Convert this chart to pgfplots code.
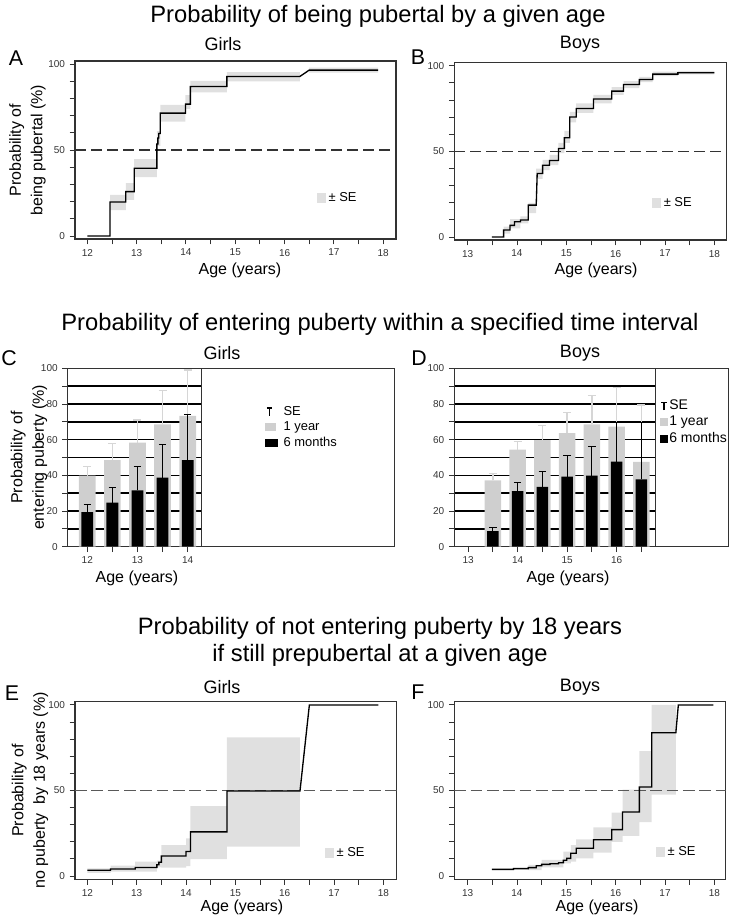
\documentclass[border=0pt]{standalone}
\usepackage{pgfplots}
\pgfplotsset{compat=1.18}
\usepackage{fontspec}
\setmainfont{Liberation Sans}
\definecolor{band}{gray}{0.88}
\definecolor{bargray}{gray}{0.81}
\definecolor{errgray}{gray}{0.84}
\definecolor{axcol}{gray}{0.2}
\definecolor{dashcol}{gray}{0.35}
\newcommand\titlefont{\fontsize{17.8}{20.5}\selectfont}
\newcommand\subfont{\fontsize{13.5}{16}\selectfont}
\newcommand\labfont{\fontsize{12}{16}\selectfont}
\newcommand\letterfont{\fontsize{16}{19}\selectfont}
\newcommand\legfont{\fontsize{9.7}{11}\selectfont}
\pgfplotsset{
  base/.style={
    scale only axis, anchor=south west,
    axis line style={axcol, line width=0.8pt},
    tick style={axcol, line width=0.7pt},
    tick align=outside, tick pos=left,
    major tick length=4pt, minor tick length=4pt,
    ticklabel style={font=\fontsize{7.5}{9}\selectfont, text=axcol},
    /pgf/number format/assume math mode=true,
    legend style={draw=none, fill=none, inner sep=0pt, font=\legfont, nodes={inner sep=2pt}},
  },
  km/.style={base, ymin=-1.75, ymax=101.8,
    xtick={12,13,...,18}, minor x tick num=1,
    ytick={0,50,100}, minor y tick num=4},
  bandplot/.style={fill=band, draw=none, unbounded coords=jump,
    legend image code/.code={\fill[band] (0pt,-3.5pt) rectangle (7pt,3.5pt);}},
  stepline/.style={black, line width=1pt},
  barc/.style={base, ymin=0, ymax=100,
    ytick={0,20,...,100}, minor ytick={10,30,...,90},
    ymajorgrids, yminorgrids,
    major grid style={black, line width=1.1pt}, minor grid style={black, line width=1.1pt},
    legend cell align=left,
    legend style={nodes={text height=7.2pt, text depth=2.4pt, inner sep=1pt}}},
  graybars/.style={ybar, bar width=0.333, bar shift=0pt, fill=bargray, draw=none,
    error bars/.cd, y dir=plus, y explicit,
    error bar style={errgray, line width=1pt},
    error mark options={errgray, line width=1pt, mark size=3pt, rotate=90}},
  blackbars/.style={ybar, bar width=0.235, bar shift=0pt, fill=black, draw=none,
    error bars/.cd, y dir=plus, y explicit,
    error bar style={black, line width=0.8pt},
    error mark options={black, line width=0.8pt, mark size=2.8pt, rotate=90}},
}
\begin{document}
\begin{tikzpicture}[x=0.75pt, y=-0.75pt]
\path[use as bounding box] (0,0) rectangle (730,918);

% ---------------- Row 1 ----------------
\node[font=\titlefont] at (378,16) {Probability of being pubertal by a given age};
\node[font=\subfont] at (223,44) {Girls};
\node[font=\subfont] at (580,44) {Boys};
\node[font=\letterfont] at (16,58) {A};
\node[font=\letterfont] at (418,57) {B};
\node[font=\labfont, rotate=90, align=center] at (27.5,150) {Probability of\\being pubertal (\%)};
\node[font=\labfont] at (240,270) {Age (years)};
\node[font=\labfont] at (596,270) {Age (years)};

\begin{axis}[km, at={(56.25pt,-179.25pt)}, width=240.75pt, height=133.5pt,
  xmin=11.75, xmax=18.26,
  legend style={at={(0.752,0.23)}, anchor=west}]
\addplot[bandplot] table {
x y
12.46 15.1
12.78 15.1
12.78 23.9
12.46 23.9
nan nan
12.78 21
12.95 21
12.95 30.7
12.78 30.7
nan nan
12.95 34.2
13.41 34.2
13.41 44.7
12.95 44.7
nan nan
13.41 52.5
13.48 52.5
13.48 61
13.41 61
nan nan
13.48 66.6
13.99 66.6
13.99 76.3
13.48 76.3
nan nan
13.99 74
14.09 74
14.09 82
13.99 82
nan nan
14.09 83.5
14.83 83.5
14.83 90.3
14.09 90.3
nan nan
14.83 90
16.31 90
16.31 95.3
14.83 95.3
nan nan
16.5 95
17.9 95
17.9 98
16.5 98
};
\addlegendentry{± SE}
\addplot[axcol, line width=0.9pt, dash pattern=on 8.25pt off 3.75pt, forget plot] coordinates {(11.75,50) (18.26,50)};
\addplot[stepline, forget plot] coordinates {
(12,0)(12.46,0)(12.46,19.8)(12.78,19.8)(12.78,25.8)(12.95,25.8)(12.95,39.4)(13.41,39.4)
(13.41,53.5)(13.43,53.5)(13.43,57)(13.45,57)(13.45,59.6)(13.48,59.6)(13.48,71.5)(13.99,71.5)
(13.99,76.7)(14.09,76.7)(14.09,87)(14.83,87)(14.83,92.8)(16.31,92.8)(16.5,96.5)(17.9,96.5)};
\end{axis}

\begin{axis}[km, at={(340.725pt,-180pt)}, width=204.3pt, height=133pt,
  xmin=12.73, xmax=18.25,
  legend style={at={(0.724,0.209)}, anchor=west}]
\addplot[bandplot] table {
x y
13.73 2
13.86 2
13.86 6
13.73 6
nan nan
13.86 5
14.07 5
14.07 10.5
13.86 10.5
nan nan
14.07 8
14.23 8
14.23 12
14.07 12
nan nan
14.23 14
14.39 14
14.39 20
14.23 20
nan nan
14.39 34
14.52 34
14.52 40
14.39 40
nan nan
14.52 39
14.66 39
14.66 45
14.52 45
nan nan
14.66 42
14.84 42
14.84 48
14.66 48
nan nan
14.84 49
14.96 49
14.96 55
14.84 55
nan nan
14.96 55
15.07 55
15.07 62
14.96 62
nan nan
15.07 67
15.2 67
15.2 73
15.07 73
nan nan
15.2 72.5
15.55 72.5
15.55 78
15.2 78
nan nan
15.55 78
15.92 78
15.92 83
15.55 83
nan nan
15.92 83
16.16 83
16.16 87.5
15.92 87.5
nan nan
16.16 87
16.48 87
16.48 91
16.16 91
nan nan
16.48 90.5
16.75 90.5
16.75 93.5
16.48 93.5
nan nan
16.75 94
17.26 94
17.26 96.5
16.75 96.5
nan nan
17.26 95
18 95
18 97
17.26 97
};
\addlegendentry{± SE}
\addplot[axcol, line width=0.9pt, dash pattern=on 8.25pt off 3.75pt, forget plot] coordinates {(12.73,50) (18.25,50)};
\addplot[stepline, forget plot] coordinates {
(13.49,0)(13.73,0)(13.73,4.1)(13.86,4.1)(13.86,6.8)(13.95,6.8)(13.95,8.9)(14.07,8.9)(14.07,9.9)
(14.23,9.9)(14.23,18.6)(14.39,18.6)(14.41,37.1)(14.52,37.1)(14.52,41.9)(14.66,41.9)(14.66,44.7)
(14.84,44.7)(14.84,51.7)(14.96,51.7)(14.96,58)(15.07,58)(15.07,70.1)(15.2,70.1)(15.2,75)
(15.55,75)(15.55,80.6)(15.92,80.6)(15.92,85.2)(16.16,85.2)(16.16,89.1)(16.48,89.1)(16.48,92)
(16.75,92)(16.75,95.1)(17.26,95.1)(17.26,95.9)(18,95.9)};
\end{axis}

% ---------------- Row 2 ----------------
\node[font=\titlefont] at (380,324) {Probability of entering puberty within a specified time interval};
\node[font=\subfont] at (222,353) {Girls};
\node[font=\subfont] at (580,353) {Boys};
\node[font=\letterfont] at (9,358) {C};
\node[font=\letterfont] at (419,358) {D};
\node[font=\labfont, rotate=90, align=center] at (29,457.5) {Probability of\\entering puberty (\%)};
\node[font=\labfont] at (137,578) {Age (years)};
\node[font=\labfont] at (568,578) {Age (years)};
\draw[axcol, line width=0.8pt] (67.7,368.3) rectangle (394.3,546.7);
\draw[axcol, line width=0.8pt] (454.3,368.3) rectangle (728.5,546.7);

\begin{axis}[barc, at={(50.775pt,-410.025pt)}, width=100.5pt, height=133.8pt,
  xmin=11.61, xmax=14.28,
  xtick={12,13,14}, minor xtick={12.5,13.5},
  legend style={at={(1.47,0.80)}, anchor=north west}]
\addlegendimage{legend image code/.code={\path[draw=none, fill=none] (0pt,-3pt) rectangle (13pt,3pt);
  \draw[black, line width=0.8pt] (3.5pt,-3pt)--(3.5pt,3pt) (1.5pt,3pt)--(5.5pt,3pt);}}
\addlegendentry{SE}
\addplot[legend image code/.code={\path[draw=none, fill=none] (0pt,-3pt) rectangle (13pt,3pt);
  \fill[bargray] (0pt,-3pt) rectangle (8pt,3pt);}, graybars] table[x=x, y=y, y error=e] {
x y e
12 39.8 5.1
12.5 48.6 9.4
13 58.3 12.7
13.5 68.6 18.9
14 73.3 25.7
};
\addlegendentry{1 year}
\addplot[legend image code/.code={\path[draw=none, fill=none] (0pt,-3pt) rectangle (13pt,3pt);
  \fill[black] (0pt,-3pt) rectangle (10pt,3pt);}, blackbars] table[x=x, y=y, y error=e] {
x y e
12 19.4 4.5
12.5 24.7 8.6
13 31.6 13.3
13.5 38.7 18.7
14 48.6 25.6
};
\addlegendentry{6 months}
\end{axis}

\begin{axis}[barc, at={(340.725pt,-410.025pt)}, width=151.05pt, height=133.8pt,
  xmin=12.72, xmax=16.79,
  xtick={13,14,15,16}, minor xtick={13.5,14.5,15.5,16.5},
  legend style={at={(1.02,0.835)}, anchor=north west, font=\fontsize{10.5}{12}\selectfont,
    nodes={text height=7.6pt, text depth=2.6pt, inner sep=1pt}}]
\addlegendimage{legend image code/.code={\path[draw=none, fill=none] (0pt,-3pt) rectangle (6pt,3pt);
  \draw[black, line width=0.8pt] (3pt,-3pt)--(3pt,3pt) (1pt,3pt)--(5pt,3pt);}}
\addlegendentry{SE}
\addplot[legend image code/.code={\fill[bargray] (0pt,-3pt) rectangle (6pt,3pt);}, graybars] table[x=x, y=y, y error=e] {
x y e
13.5 37.2 3.7
14 54.4 4.6
14.5 59.8 8.1
15 63.6 11.5
15.5 68.6 16.1
16 67.3 22
16.5 47.5 31.9
};
\addlegendentry{1 year}
\addplot[legend image code/.code={\fill[black] (0pt,-3pt) rectangle (6pt,3pt);}, blackbars] table[x=x, y=y, y error=e] {
x y e
13.5 8.8 2.2
14 31.2 4.7
14.5 33.5 8.4
15 39.3 11.7
15.5 39.8 16.2
16 47.7 21.8
16.5 37.8 31.7
};
\addlegendentry{6 months}
\end{axis}

% ---------------- Row 3 ----------------
\node[font=\titlefont, align=center] at (380,642) {Probability of not entering puberty by 18 years\\if still prepubertal at a given age};
\node[font=\subfont] at (222,687) {Girls};
\node[font=\subfont] at (580,687) {Boys};
\node[font=\letterfont] at (12,693) {E};
\node[font=\letterfont] at (418,692) {F};
\node[font=\labfont, rotate=90, align=center] at (30,790.5) {Probability of\\no puberty\ \ by 18 years (\%)};
\node[font=\labfont] at (242,907) {Age (years)};
\node[font=\labfont] at (597,907) {Age (years)};

\begin{axis}[km, at={(56.25pt,-659.475pt)}, width=241.275pt, height=133.2pt,
  xmin=11.75, xmax=18.27, ymin=-1.93, ymax=101.9,
  legend style={at={(0.775,0.148)}, anchor=west}]
\addplot[bandplot] table {
x y
12 1.9
12.47 1.9
12.47 4.5
12 4.5
nan nan
12.47 2.5
12.97 2.5
12.97 6
12.47 6
nan nan
12.97 2.5
13.41 2.5
13.41 8.4
12.97 8.4
nan nan
13.41 5
13.5 5
13.5 9
13.41 9
nan nan
13.5 4.9
14 4.9
14 18.1
13.5 18.1
nan nan
14 5.8
14.09 5.8
14.09 22
14 22
nan nan
14.09 9.9
14.83 9.9
14.83 40.9
14.09 40.9
nan nan
14.83 17.2
16.31 17.2
16.31 81.1
14.83 81.1
};
\addlegendentry{± SE}
\addplot[dashcol, line width=1.3pt, dash pattern=on 8.75pt off 3.5pt, forget plot] coordinates {(11.75,50) (18.27,50)};
\addplot[stepline, forget plot] coordinates {
(12,3.4)(12.47,3.4)(12.47,4.1)(12.97,4.1)(12.97,5.0)(13.41,5.0)(13.41,6.6)(13.45,6.6)(13.45,8)
(13.5,8)(13.5,11.7)(14,11.7)(14,14.3)(14.09,14.3)(14.09,25.8)(14.83,25.8)(14.83,49.7)
(16.31,49.7)(16.5,100)(17.9,100)};
\end{axis}

\begin{axis}[km, at={(340.725pt,-659.475pt)}, width=203.55pt, height=133.2pt,
  xmin=12.73, xmax=18.23, ymin=-1.93, ymax=101.9,
  legend style={at={(0.741,0.154)}, anchor=west}]
\addplot[bandplot] table {
x y
14.23 3.5
14.5 3.5
14.5 6.5
14.23 6.5
nan nan
14.5 5
14.94 5
14.94 9.5
14.5 9.5
nan nan
14.94 7.4
15.09 7.4
15.09 14.2
14.94 14.2
nan nan
15.09 8.4
15.2 8.4
15.2 18.1
15.09 18.1
nan nan
15.2 10.3
15.55 10.3
15.55 21.4
15.2 21.4
nan nan
15.55 13.6
15.92 13.6
15.92 28.5
15.55 28.5
nan nan
15.92 20
16.14 20
16.14 37
15.92 37
nan nan
16.14 23.4
16.48 23.4
16.48 50.5
16.14 50.5
nan nan
16.48 31.5
16.73 31.5
16.73 73
16.48 73
nan nan
16.73 47.6
17.22 47.6
17.22 100
16.73 100
};
\addlegendentry{± SE}
\addplot[dashcol, line width=1.3pt, dash pattern=on 8.75pt off 3.5pt, forget plot] coordinates {(12.73,50) (18.23,50)};
\addplot[stepline, forget plot] coordinates {
(13.49,3.9)(13.93,3.9)(13.93,4.3)(14.23,4.3)(14.23,4.9)(14.39,4.9)(14.39,6)(14.5,6)(14.5,6.8)
(14.67,6.8)(14.67,7.2)(14.84,7.2)(14.84,7.8)(14.94,7.8)(14.94,9.2)(15.01,9.2)(15.01,10.3)
(15.09,10.3)(15.09,13.3)(15.2,13.3)(15.2,16.2)(15.55,16.2)(15.55,21.2)(15.92,21.2)(15.92,27.1)
(16.14,27.1)(16.14,37.4)(16.48,37.4)(16.48,52)(16.73,52)(16.73,83.8)(17.22,83.8)(17.27,100)(17.98,100)};
\end{axis}
\end{tikzpicture}
\end{document}
